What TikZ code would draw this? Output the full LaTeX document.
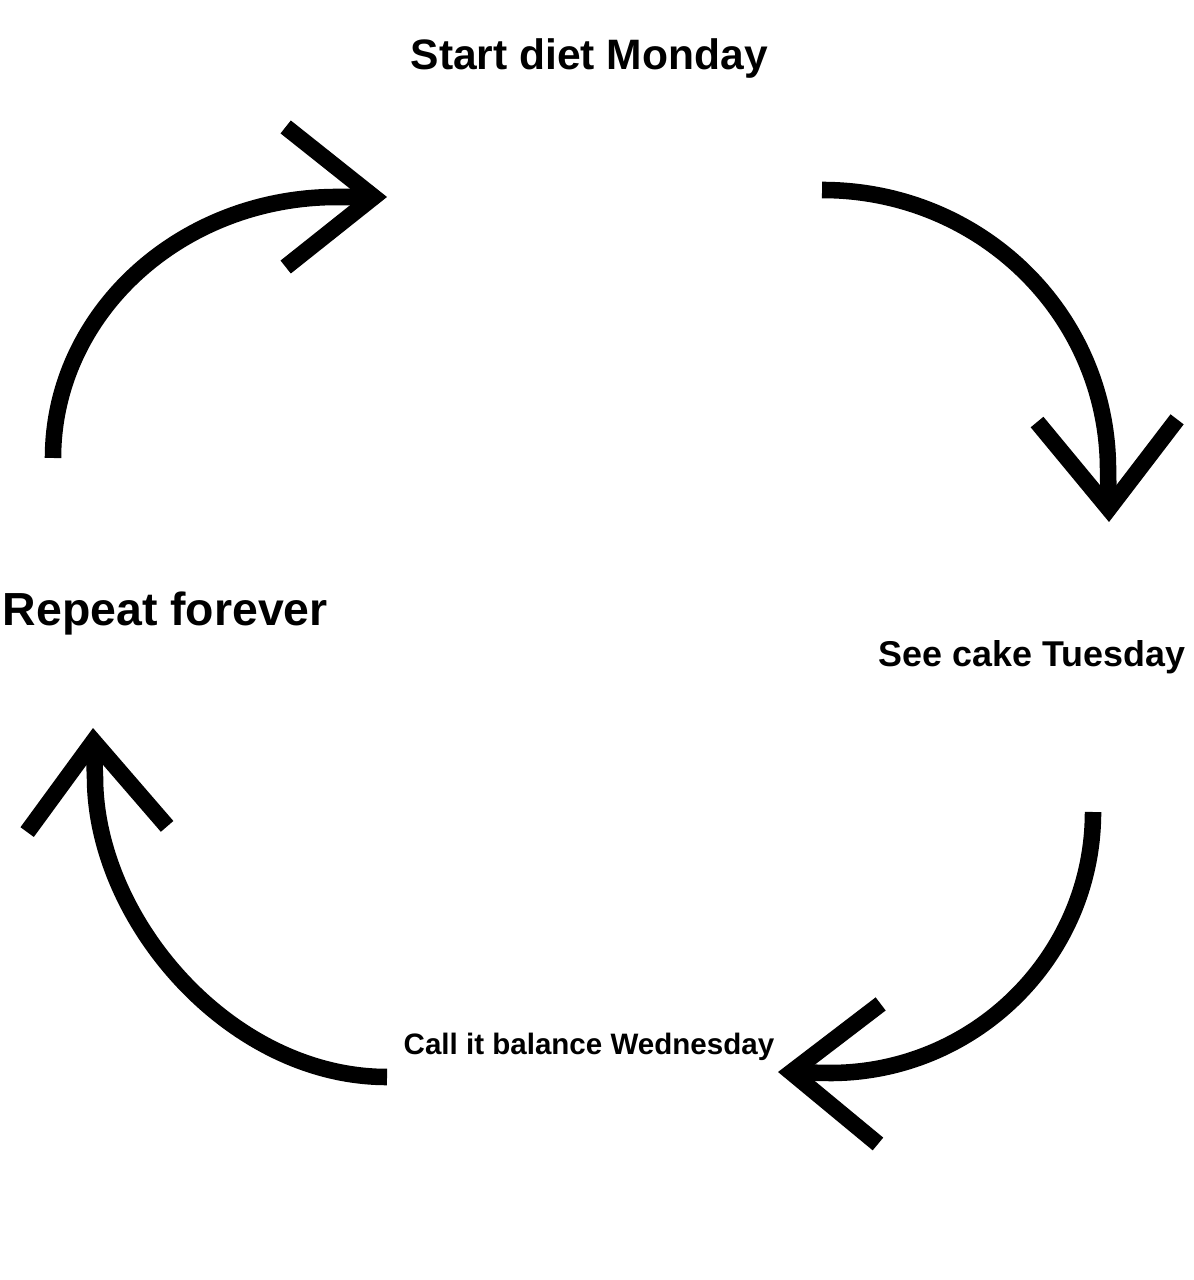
\documentclass[tikz,border=0pt]{standalone}
\usepackage{fontspec}
\setsansfont{Liberation Sans}
\usetikzlibrary{arrows.meta}

\begin{document}
\begin{tikzpicture}[x=0.01cm, y=-0.01cm]
\tikzstyle{phase} = [inner sep=0pt, anchor=base west, font=\sffamily\bfseries]
\tikzstyle{cycleline} = [draw, line width=4.7pt, line join=miter,
    -{Straight Barb[length=0.88cm, width=1.4cm, line width=4.7pt]}]

\useasboundingbox (0,0) rectangle (1193,1280);

 \node [phase, font=\sffamily\bfseries\fontsize{12.1pt}{14pt}\selectfont] (monday) at (410,70) {Start diet Monday};
 \node [phase, font=\sffamily\bfseries\fontsize{10.2pt}{12pt}\selectfont] (tuesday) at (878,667) {See cake Tuesday};
 \node [phase, font=\sffamily\bfseries\fontsize{8.4pt}{10pt}\selectfont] (wednesday) at (403,1054) {Call it balance Wednesday};
 \node [phase, font=\sffamily\bfseries\fontsize{13.2pt}{15pt}\selectfont] (repeat) at (2,626) {Repeat forever};

 % ends of the four arrows
 \coordinate (upstart) at (53,458);
 \coordinate (upend) at (387,197);
 \coordinate (rightstart) at (822,190);
 \coordinate (rightend) at (1109,522);
 \coordinate (downstart) at (1093,812);
 \coordinate (downend) at (778,1072);
 \coordinate (leftstart) at (387,1077);
 \coordinate (leftend) at (93,728);

 \path [cycleline] (upstart) .. controls (53,314) and (180,197) .. (337,197) -- (upend);
 \path [cycleline] (rightstart) .. controls (981,190) and (1108,315) .. (1108,470) -- (rightend);
 \path [cycleline] (downstart) .. controls (1093,956) and (975,1073) .. (830,1073) -- (downend);
 \path [cycleline] (leftstart) .. controls (230,1077) and (95,920) .. (95,777) -- (leftend);
\end{tikzpicture}
\end{document}
